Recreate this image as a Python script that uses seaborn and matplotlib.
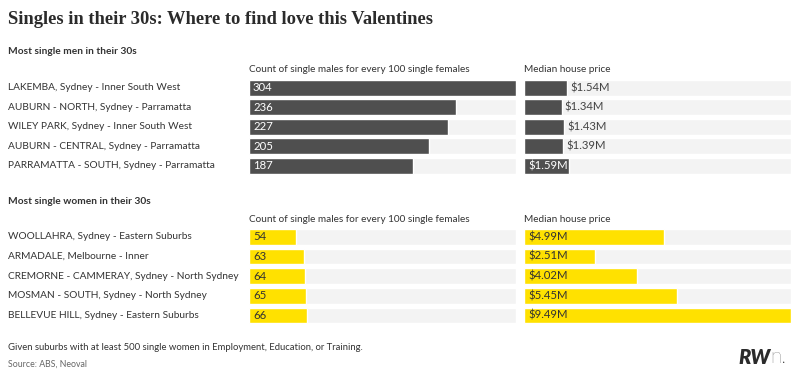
import matplotlib
matplotlib.use("Agg")
import matplotlib.pyplot as plt
import matplotlib.transforms as mtransforms
import seaborn as sns

# Data
men_suburbs = [
    "LAKEMBA, Sydney - Inner South West",
    "AUBURN - NORTH, Sydney - Parramatta",
    "WILEY PARK, Sydney - Inner South West",
    "AUBURN - CENTRAL, Sydney - Parramatta",
    "PARRAMATTA - SOUTH, Sydney - Parramatta",
]
men_ratio = [304, 236, 227, 205, 187]
men_price = [1.54, 1.34, 1.43, 1.39, 1.59]

women_suburbs = [
    "WOOLLAHRA, Sydney - Eastern Suburbs",
    "ARMADALE, Melbourne - Inner",
    "CREMORNE - CAMMERAY, Sydney - North Sydney",
    "MOSMAN - SOUTH, Sydney - North Sydney",
    "BELLEVUE HILL, Sydney - Eastern Suburbs",
]
women_ratio = [54, 63, 64, 65, 66]
women_price = [4.99, 2.51, 4.02, 5.45, 9.49]

ratio_header = "Count of single males for every 100 single females"
price_header = "Median house price"

DARK = "#4f4f4f"
YELLOW = "#ffe100"
TRACK = "#f3f3f3"
TXT = "#333333"

sns.set_theme(style="white")
plt.rcParams['font.family'] = ['Lato', 'DejaVu Sans']

W, H = 800, 375
fig = plt.figure(figsize=(W / 100, H / 100), dpi=100)


def fy(y):
    return 1 - y / H


ratio_max = max(men_ratio + women_ratio)
price_max = max(men_price + women_price)


def panel(x0, x1, top, bottom, cats, vals, vmax, color, txtcol, fmt, inside_min_px=0):
    ax = fig.add_axes([x0 / W, fy(bottom), (x1 - x0) / W, (bottom - top) / H])
    sns.barplot(x=[vmax] * len(cats), y=cats, color=TRACK, saturation=1,
                width=0.8, orient="h", ax=ax)
    sns.barplot(x=vals, y=cats, color=color, saturation=1,
                width=0.8, orient="h", ax=ax)
    ax.set_xlim(0, vmax)
    ax.axis("off")
    pad = vmax * 4 / (x1 - x0)
    for i, v in enumerate(vals):
        wpx = v / vmax * (x1 - x0)
        if wpx >= inside_min_px:
            ax.text(pad, i, fmt(v), va="center", ha="left", fontsize=8.2, color=txtcol)
        else:
            ax.text(v + pad * 0.8, i, fmt(v), va="center", ha="left", fontsize=8.2, color="#444444")
    return ax


def row_labels(ax, cats):
    tr = mtransforms.blended_transform_factory(fig.transFigure, ax.transData)
    for i, c in enumerate(cats):
        ax.text(8 / W, i, c, transform=tr, va="center", ha="left",
                fontsize=7.3, color=TXT, clip_on=False)


# title
fig.text(8 / W, fy(20), "Singles in their 30s: Where to find love this Valentines",
         fontsize=13.3, fontweight="bold", color="#2b2b2b",
         family=["Liberation Serif", "DejaVu Serif"], va="center", ha="left")

# men section
fig.text(8 / W, fy(52), "Most single men in their 30s", fontsize=7.3,
         fontweight="bold", color=TXT, va="center")
fig.text(249 / W, fy(69.5), ratio_header, fontsize=7.2, color=TXT, va="center")
fig.text(524 / W, fy(69.5), price_header, fontsize=7.2, color=TXT, va="center")
ax_m1 = panel(249, 516, 78, 175.5, men_suburbs, men_ratio, ratio_max, DARK, "white",
              lambda v: f"{v}")
panel(524, 791, 78, 175.5, men_suburbs, men_price, price_max, DARK, "white",
      lambda v: f"${v:.2f}M", inside_min_px=44.5)
row_labels(ax_m1, men_suburbs)

# women section
fig.text(8 / W, fy(202), "Most single women in their 30s", fontsize=7.3,
         fontweight="bold", color=TXT, va="center")
fig.text(249 / W, fy(219), ratio_header, fontsize=7.2, color=TXT, va="center")
fig.text(524 / W, fy(219), price_header, fontsize=7.2, color=TXT, va="center")
ax_w1 = panel(249, 516, 226.9, 325.3, women_suburbs, women_ratio, ratio_max, YELLOW, TXT,
              lambda v: f"{v}")
panel(524, 791, 226.9, 325.3, women_suburbs, women_price, price_max, YELLOW, TXT,
      lambda v: f"${v:.2f}M")
row_labels(ax_w1, women_suburbs)

# footer
fig.text(8 / W, fy(348), "Given suburbs with at least 500 single women in Employment, Education, or Training.",
         fontsize=6.8, color=TXT, va="center")
fig.text(8 / W, fy(364), "Source: ABS, Neoval", fontsize=6.3, color="#666666", va="center")
fig.text(738 / W, fy(357), "RW", fontsize=14.5, fontweight="heavy", style="italic",
         color="#2b2b2b", va="center", ha="left")
fig.text(770 / W, fy(357), "n.", fontsize=15, fontweight="light",
         color="#2b2b2b", va="center", ha="left")

fig.savefig("out.png", dpi=100, facecolor="white")
